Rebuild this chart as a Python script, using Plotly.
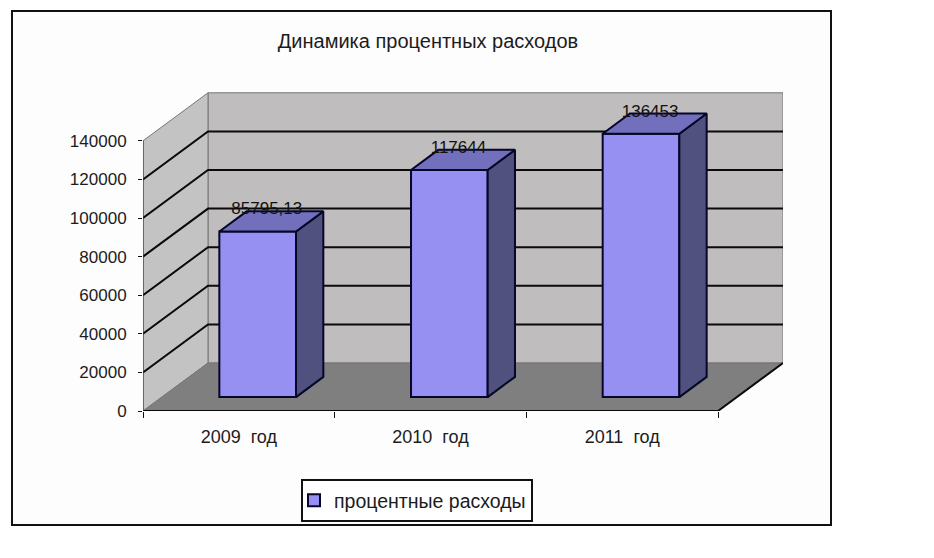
import plotly.graph_objects as go

title = "Динамика процентных расходов"
series_name = "процентные расходы"
categories = ["2009  год", "2010  год", "2011  год"]
values = [85795.13, 117644, 136453]
value_labels = ["85795,13", "117644", "136453"]
y_ticks = [0, 20000, 40000, 60000, 80000, 100000, 120000, 140000]

W, H = 934, 558
L, R, T, B = 143, 783, 91, 411
PX_CAT = 575 / 3
PX_VAL = 38.6 / 20000
DX = 65 / PX_CAT
DY = 48 / PX_VAL
Y_MAX = y_ticks[-1]
T0, T1 = 0.29, 0.71
HALF = 0.2
FONT = "Liberation Sans"
INK = "#1c1c1c"


def P(c, v, t):
    return c + t * DX, v + t * DY


def pxx(p):
    return (p - L) / (R - L)


def pxy(p):
    return (B - p) / (B - T)


def poly(points):
    xs = [p[0] for p in points]
    ys = [p[1] for p in points]
    path = "M" + "L".join(f"{x},{y}" for x, y in zip(xs, ys)) + "Z"
    return path


n = len(categories)
shapes = []
# frame
shapes.append(dict(type="rect", xref="paper", yref="paper", x0=pxx(12), x1=pxx(831),
                   y0=pxy(525), y1=pxy(11), line=dict(color="#111", width=2),
                   fillcolor="#fdfdfd", layer="below"))
# walls and floor
edge = dict(color="#777", width=1)
shapes.append(dict(type="path", layer="below", fillcolor="#bfbdbd", line=edge,
                   path=poly([P(0, 0, 1), P(n, 0, 1), P(n, Y_MAX, 1), P(0, Y_MAX, 1)])))
shapes.append(dict(type="path", layer="below", fillcolor="#c4c3c3", line=edge,
                   path=poly([P(0, 0, 0), P(0, Y_MAX, 0), P(0, Y_MAX, 1), P(0, 0, 1)])))
shapes.append(dict(type="path", layer="below", fillcolor="#7f7f7f", line=dict(color="#777", width=1),
                   path=poly([P(0, 0, 0), P(n, 0, 0), P(n, 0, 1), P(0, 0, 1)])))
# gridlines
grid = dict(color="#0a0a0a", width=2)
for v in y_ticks[1:-1]:
    shapes.append(dict(type="path", layer="below", line=grid,
                       path="M" + "L".join(f"{x},{y}" for x, y in [P(0, v, 0), P(0, v, 1), P(n, v, 1)])))
# front axis lines
axis_line = dict(color="#0a0a0a", width=2)
shapes.append(dict(type="line", layer="below", line=axis_line, x0=0, x1=n, y0=0, y1=0))
shapes.append(dict(type="line", layer="below", line=dict(color="#333", width=1), x0=0, x1=0, y0=0, y1=Y_MAX))
shapes.append(dict(type="path", layer="below", line=axis_line,
                   path="M" + "L".join(f"{x},{y}" for x, y in [P(n, 0, 0), P(n, 0, 1)])))

fig = go.Figure()

centers = [i + 0.5 for i in range(n)]
fig.add_trace(go.Bar(
    x=[P(c, 0, T0)[0] for c in centers], y=values, base=[P(0, 0, T0)[1]] * n,
    width=2 * HALF, name=series_name,
    marker=dict(color="#9590f2", line=dict(color="#06062a", width=2)),
    hoverinfo="skip", showlegend=True))

for c, v in zip(centers, values):
    side = [P(c + HALF, 0, T0), P(c + HALF, 0, T1), P(c + HALF, v, T1), P(c + HALF, v, T0), P(c + HALF, 0, T0)]
    top = [P(c - HALF, v, T0), P(c + HALF, v, T0), P(c + HALF, v, T1), P(c - HALF, v, T1), P(c - HALF, v, T0)]
    for pts, col in ((side, "#51517f"), (top, "#7270bd")):
        fig.add_trace(go.Scatter(x=[p[0] for p in pts], y=[p[1] for p in pts], mode="lines",
                                 fill="toself", fillcolor=col, line=dict(color="#06062a", width=2),
                                 hoverinfo="skip", showlegend=False, cliponaxis=False))

fig.add_trace(go.Scatter(
    x=[P(c, v, 0.43)[0] for c, v in zip(centers, values)],
    y=[P(c, v, 0.56)[1] for c, v in zip(centers, values)],
    mode="text", text=value_labels, textposition="top center",
    textfont=dict(family=FONT, size=17, color="#111"),
    hoverinfo="skip", showlegend=False, cliponaxis=False))

fig.update_layout(
    width=W, height=H, autosize=False,
    margin=dict(l=L, r=W - R, t=T, b=H - B, pad=0),
    paper_bgcolor="#ffffff", plot_bgcolor="rgba(0,0,0,0)",
    shapes=shapes, barmode="overlay",
    title=dict(text=title, x=428 / W, y=1 - 41 / H, xref="container", yref="container",
               xanchor="center", yanchor="middle",
               font=dict(family=FONT, size=20, color=INK)),
    xaxis=dict(range=[0, (R - L) / PX_CAT], tickmode="array", tickvals=centers, ticktext=categories,
               ticks="outside", ticklen=9, tickcolor="rgba(0,0,0,0)", showgrid=False, zeroline=False,
               showline=False, tickfont=dict(family=FONT, size=18, color=INK),
               minor=dict(tickmode="array", tickvals=list(range(n + 1)), ticks="outside",
                          ticklen=6, tickcolor="#111", tickwidth=1, showgrid=False)),
    yaxis=dict(range=[0, (B - T) / PX_VAL], tickmode="array", tickvals=y_ticks,
               ticktext=[str(v) for v in y_ticks], ticks="outside", ticklen=4, tickcolor="#111",
               showgrid=False, zeroline=False, showline=False, ticklabelstandoff=8,
               tickfont=dict(family=FONT, size=17, color=INK)),
    legend=dict(x=pxx(301), y=pxy(479), xanchor="left", yanchor="top", indentation=-9,
                entrywidth=197, entrywidthmode="pixels",
                bgcolor="#ffffff", bordercolor="#111", borderwidth=2,
                font=dict(family=FONT, size=19.5, color=INK), itemclick=False, itemdoubleclick=False),
)

fig.write_html("out.html", post_script="document.body.style.margin='0';",
               config=dict(displayModeBar=False))
